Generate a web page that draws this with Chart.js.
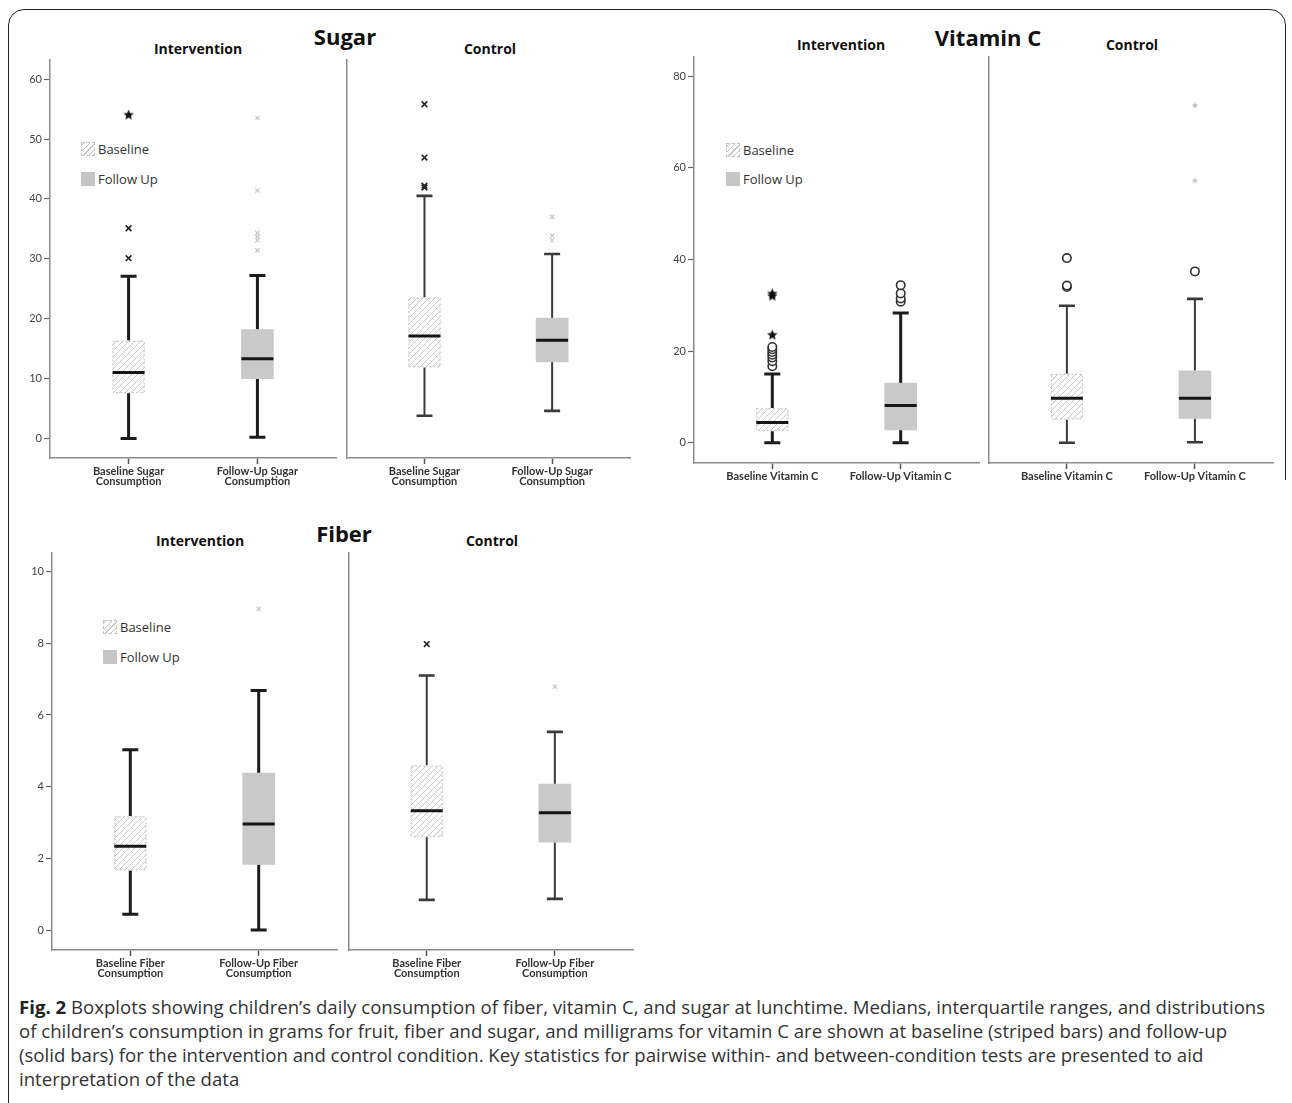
<!DOCTYPE html>
<html>
<head>
<meta charset="utf-8">
<script src="https://cdn.jsdelivr.net/npm/chart.js@4.4.1/dist/chart.umd.min.js"></script>
<style>
  body { margin: 0; background: #fff; }
  #page { position: relative; width: 1292px; height: 1103px; overflow: hidden; background: #fff; font-family: 'Open Sans', sans-serif; }
  #frame { position: absolute; left: 8px; top: 9px; width: 1278px; height: 1200px; border: 1.5px solid #222; border-radius: 16px; box-sizing: border-box; }
  #mask { position: absolute; left: 1276px; top: 480px; width: 20px; height: 700px; background: #fff; }
  canvas.sub { position: absolute; }
  .t { position: absolute; transform: translate(-50%, -50%); white-space: nowrap; color: #111; font-weight: 700; }
  .big { font-size: 22px; }
  .grp { font-size: 14px; }
  .leg { position: absolute; transform: translateY(-50%); display: flex; align-items: center; font-size: 13px; color: #333; white-space: nowrap; }
  .sw { width: 14px; height: 14px; margin-right: 3px; box-sizing: border-box; }
  .hatch { border: 1px dashed #c2c2c2; background: repeating-linear-gradient(-45deg, #fff 0 3px, #c4c4c4 3px 4px); }
  .solid { background: #c6c6c6; }
  .cap { position: absolute; left: 19px; white-space: nowrap; color: #333; line-height: 24px; }
  .cap b { color: #222; }
</style>
</head>
<body>
<div id="page">
  <div id="frame"></div>
  <div id="mask"></div>

  <div class="t big" style="left:345px; top:36px;">Sugar</div>
  <div class="t grp" style="left:198px; top:48px;">Intervention</div>
  <div class="t grp" style="left:490px; top:48px;">Control</div>

  <div class="t big" style="left:988px; top:37px;">Vitamin C</div>
  <div class="t grp" style="left:841px; top:44px;">Intervention</div>
  <div class="t grp" style="left:1132px; top:44px;">Control</div>

  <div class="t big" style="left:344px; top:533px;">Fiber</div>
  <div class="t grp" style="left:200px; top:540px;">Intervention</div>
  <div class="t grp" style="left:492px; top:540px;">Control</div>

  <div class="leg" style="left:81px; top:149px;"><div class="sw hatch"></div>Baseline</div>
  <div class="leg" style="left:81px; top:179px;"><div class="sw solid"></div>Follow Up</div>
  <div class="leg" style="left:726px; top:150px;"><div class="sw hatch"></div>Baseline</div>
  <div class="leg" style="left:726px; top:179px;"><div class="sw solid"></div>Follow Up</div>
  <div class="leg" style="left:103px; top:627px;"><div class="sw hatch"></div>Baseline</div>
  <div class="leg" style="left:103px; top:657px;"><div class="sw solid"></div>Follow Up</div>

  <div class="cap" style="top:995px;"><b>Fig. 2</b> Boxplots showing children’s daily consumption of fiber, vitamin C, and sugar at lunchtime. Medians, interquartile ranges, and distributions</div>
  <div class="cap" style="top:1019px;">of children’s consumption in grams for fruit, fiber and sugar, and milligrams for vitamin C are shown at baseline (striped bars) and follow-up</div>
  <div class="cap" style="top:1043px;">(solid bars) for the intervention and control condition. Key statistics for pairwise within- and between-condition tests are presented to aid</div>
  <div class="cap" style="top:1067px;">interpretation of the data</div>
</div>

<script>
// tick values and category labels
const sugarTicks = [0, 10, 20, 30, 40, 50, 60];
const vitTicks = [0, 20, 40, 60, 80];
const fiberTicks = [0, 2, 4, 6, 8, 10];
const sugarLabels = [['Baseline Sugar', 'Consumption'], ['Follow-Up Sugar', 'Consumption']];
const vitLabels = ['Baseline Vitamin C', 'Follow-Up Vitamin C'];
const fiberLabels = [['Baseline Fiber', 'Consumption'], ['Follow-Up Fiber', 'Consumption']];

// box stats: [min, q1, median, q3, max]
const sugarIntBase = [0, 7.6, 11.0, 16.3, 27.1];
const sugarIntFollow = [0.2, 10.0, 13.3, 18.2, 27.2];
const sugarCtrlBase = [3.8, 11.9, 17.1, 23.5, 40.5];
const sugarCtrlFollow = [4.6, 12.8, 16.4, 20.1, 30.8];
const vitIntBase = [0, 2.6, 4.4, 7.5, 15.0];
const vitIntFollow = [0, 2.8, 8.1, 13.0, 28.3];
const vitCtrlBase = [0, 5.1, 9.7, 15.0, 29.9];
const vitCtrlFollow = [0.1, 5.3, 9.7, 15.7, 31.4];
const fiberIntBase = [0.44, 1.67, 2.34, 3.17, 5.03];
const fiberIntFollow = [0, 1.83, 2.96, 4.38, 6.68];
const fiberCtrlBase = [0.84, 2.6, 3.33, 4.59, 7.1];
const fiberCtrlFollow = [0.87, 2.45, 3.27, 4.07, 5.53];

// outliers
const sugarIntBaseStar = [54.0];
const sugarIntBaseCross = [30.1, 35.1];
const sugarIntFollowOut = [31.4, 33.1, 33.7, 34.3, 41.4, 53.5];
const sugarCtrlBaseCross = [41.9, 42.2, 46.9, 55.8];
const sugarCtrlFollowOut = [33.1, 33.9, 37.0];
const vitIntBaseCircle = [16.7, 17.8, 18.6, 19.2, 19.8, 20.4, 20.9];
const vitIntBaseStar = [23.5, 32.0, 32.5];
const vitIntFollowCircle = [30.8, 31.5, 32.6, 34.4];
const vitCtrlBaseCircle = [34.0, 34.3, 40.3];
const vitCtrlFollowCircle = [37.4];
const vitCtrlFollowOut = [57.2, 73.6];
const fiberIntFollowOut = [8.96];
const fiberCtrlBaseCross = [7.98];
const fiberCtrlFollowOut = [6.79];

function makeStar(size, color) {
  const c = document.createElement('canvas');
  c.width = size; c.height = size;
  const g = c.getContext('2d');
  const r = size / 2;
  g.fillStyle = color;
  g.beginPath();
  for (let k = 0; k < 10; k++) {
    const a = -Math.PI / 2 + k * Math.PI / 5;
    const rr = k % 2 ? r * 0.45 : r;
    g.lineTo(r + rr * Math.cos(a), r + rr * Math.sin(a));
  }
  g.closePath();
  g.fill();
  return c;
}
const starImg = makeStar(11, '#111');
const lightStarImg = makeStar(7, '#c0c0c0');

function hatchTile() {
  const c = document.createElement('canvas');
  c.width = 6; c.height = 6;
  const g = c.getContext('2d');
  g.fillStyle = '#fff';
  g.fillRect(0, 0, 6, 6);
  g.strokeStyle = '#c8c8c8';
  g.lineWidth = 1;
  g.beginPath();
  g.moveTo(0, 6); g.lineTo(6, 0);
  g.moveTo(-1, 1); g.lineTo(1, -1);
  g.moveTo(5, 7); g.lineTo(7, 5);
  g.stroke();
  return c;
}
const tile = hatchTile();

function markSet(kind, box, vals) {
  const data = vals.map(v => ({ x: box, y: v }));
  const ds = { type: 'scatter', data: data, borderWidth: 1.6, backgroundColor: 'rgba(0,0,0,0)' };
  if (kind === 'cross') Object.assign(ds, { pointStyle: 'crossRot', pointRadius: 4, borderColor: '#222' });
  if (kind === 'light') Object.assign(ds, { pointStyle: 'crossRot', pointRadius: 3, borderColor: '#c6c6c6', borderWidth: 1.2 });
  if (kind === 'circle') Object.assign(ds, { pointStyle: 'circle', pointRadius: 4.2, borderColor: '#333', backgroundColor: '#fff' });
  if (kind === 'star') Object.assign(ds, { pointStyle: starImg });
  if (kind === 'lightStar') Object.assign(ds, { pointStyle: lightStarImg });
  return ds;
}

// whiskers, caps, medians and dashed outline drawn from the stats through the scales
const boxPlugin = {
  id: 'boxes',
  beforeDatasetsDraw(chart) {
    const ds = chart.data.datasets[0];
    const x = chart.scales.x, y = chart.scales.y, ctx = chart.ctx;
    ctx.save();
    ctx.strokeStyle = ds.heavy ? '#1c1c1c' : '#3a3a3a';
    ds.stats.forEach((s, i) => {
      const cx = x.getPixelForValue(i);
      ctx.lineWidth = ds.heavy ? 3 : 2;
      ctx.beginPath();
      ctx.moveTo(cx, y.getPixelForValue(s[0])); ctx.lineTo(cx, y.getPixelForValue(s[1]));
      ctx.moveTo(cx, y.getPixelForValue(s[3])); ctx.lineTo(cx, y.getPixelForValue(s[4]));
      ctx.stroke();
      ctx.lineWidth = ds.heavy ? 3 : 2.6;
      ctx.beginPath();
      [s[0], s[4]].forEach(v => {
        const py = y.getPixelForValue(v);
        ctx.moveTo(cx - 8, py); ctx.lineTo(cx + 8, py);
      });
      ctx.stroke();
    });
    ctx.restore();
  },
  afterDatasetsDraw(chart) {
    const ds = chart.data.datasets[0];
    const x = chart.scales.x, y = chart.scales.y, ctx = chart.ctx;
    const half = ds.barThickness / 2;
    ctx.save();
    ds.stats.forEach((s, i) => {
      const cx = x.getPixelForValue(i);
      if (i === 0) {
        ctx.setLineDash([2, 2]);
        ctx.strokeStyle = '#c4c4c4';
        ctx.lineWidth = 1;
        const top = y.getPixelForValue(s[3]), bot = y.getPixelForValue(s[1]);
        ctx.strokeRect(cx - half + 0.5, top + 0.5, half * 2 - 1, bot - top - 1);
        ctx.setLineDash([]);
      }
      ctx.strokeStyle = '#151515';
      ctx.lineWidth = 3;
      const py = y.getPixelForValue(s[2]);
      ctx.beginPath();
      ctx.moveTo(cx - half, py); ctx.lineTo(cx + half, py);
      ctx.stroke();
    });
    ctx.restore();
  }
};

const panels = [
  { area: [50, 60, 336, 458], range: [-3.26, 63.19], ticks: sugarTicks, labels: sugarLabels, stats: [sugarIntBase, sugarIntFollow], showY: true, heavy: true,
    marks: [['star', 0, sugarIntBaseStar], ['cross', 0, sugarIntBaseCross], ['light', 1, sugarIntFollowOut]] },
  { area: [345, 60, 630, 458], range: [-3.26, 63.19], ticks: sugarTicks, labels: sugarLabels, stats: [sugarCtrlBase, sugarCtrlFollow], showY: false, heavy: false,
    marks: [['cross', 0, sugarCtrlBaseCross], ['light', 1, sugarCtrlFollowOut]] },
  { area: [694, 57, 979, 463], range: [-4.43, 84.21], ticks: vitTicks, labels: vitLabels, stats: [vitIntBase, vitIntFollow], showY: true, heavy: true,
    marks: [['circle', 0, vitIntBaseCircle], ['star', 0, vitIntBaseStar], ['circle', 1, vitIntFollowCircle]] },
  { area: [987, 57, 1273, 463], range: [-4.43, 84.21], ticks: vitTicks, labels: vitLabels, stats: [vitCtrlBase, vitCtrlFollow], showY: false, heavy: false,
    marks: [['circle', 0, vitCtrlBaseCircle], ['circle', 1, vitCtrlFollowCircle], ['lightStar', 1, vitCtrlFollowOut]] },
  { area: [52, 553, 337, 950], range: [-0.558, 10.52], ticks: fiberTicks, labels: fiberLabels, stats: [fiberIntBase, fiberIntFollow], showY: true, heavy: true,
    marks: [['light', 1, fiberIntFollowOut]] },
  { area: [347, 553, 633, 950], range: [-0.558, 10.52], ticks: fiberTicks, labels: fiberLabels, stats: [fiberCtrlBase, fiberCtrlFollow], showY: false, heavy: false,
    marks: [['cross', 0, fiberCtrlBaseCross], ['light', 1, fiberCtrlFollowOut]] }
];

const page = document.getElementById('page');
panels.forEach(p => {
  const YW = p.showY ? 46 : 0, XH = 40, PT = 10, PR = 10, PL = 4;
  const canvas = document.createElement('canvas');
  canvas.className = 'sub';
  canvas.width = p.area[2] - p.area[0] + YW + PL + PR;
  canvas.height = p.area[3] - p.area[1] + PT + XH;
  canvas.style.left = (p.area[0] - YW - PL) + 'px';
  canvas.style.top = (p.area[1] - PT) + 'px';
  page.appendChild(canvas);
  const hatch = canvas.getContext('2d').createPattern(tile, 'repeat');

  new Chart(canvas, {
    type: 'bar',
    data: {
      datasets: [
        {
          type: 'bar',
          data: p.stats.map((s, i) => ({ x: i, y: [s[1], s[3]] })),
          backgroundColor: [hatch, '#c9c9c9'],
          borderWidth: 0,
          barThickness: 32,
          stats: p.stats,
          heavy: p.heavy
        },
        ...p.marks.map(m => markSet(m[0], m[1], m[2]))
      ]
    },
    options: {
      responsive: false,
      animation: false,
      events: [],
      layout: { padding: { top: PT, right: PR, left: PL, bottom: 0 } },
      plugins: { legend: { display: false }, tooltip: { enabled: false } },
      scales: {
        x: {
          type: 'linear', min: -0.61, max: 1.61, offset: false,
          afterBuildTicks: s => { s.ticks = [{ value: 0 }, { value: 1 }]; },
          afterFit: s => { s.height = XH; },
          grid: { offset: false, drawOnChartArea: false, drawTicks: true, tickLength: 6, tickColor: '#555', tickWidth: 1.5 },
          border: { color: '#8c8c8c', width: 1.5 },
          ticks: { callback: v => p.labels[v], color: '#333', padding: 2, maxRotation: 0, autoSkip: false,
                   font: { family: 'Lato', size: 11, weight: 'bold', lineHeight: 0.96 } }
        },
        y: {
          type: 'linear', min: p.range[0], max: p.range[1],
          afterBuildTicks: s => { s.ticks = p.ticks.map(v => ({ value: v })); },
          afterFit: s => { s.width = YW; },
          grid: { drawOnChartArea: false, drawTicks: p.showY, tickLength: p.showY ? 6 : 0, tickColor: '#666', tickWidth: 1.2 },
          border: { color: '#8c8c8c', width: 1.5 },
          ticks: { display: p.showY, color: '#444', padding: 2, font: { family: 'Lato', size: 11 } }
        }
      }
    },
    plugins: [boxPlugin]
  });
});

// fit caption font so the first line spans the same width as the figure caption
(function () {
  const ctx = document.createElement('canvas').getContext('2d');
  const base = 16;
  ctx.font = 'bold ' + base + 'px "Open Sans"';
  let w = ctx.measureText('Fig. 2').width;
  ctx.font = base + 'px "Open Sans"';
  w += ctx.measureText(' Boxplots showing children’s daily consumption of fiber, vitamin C, and sugar at lunchtime. Medians, interquartile ranges, and distributions').width;
  const size = base * 1246 / w;
  document.querySelectorAll('.cap').forEach(el => { el.style.fontSize = size.toFixed(2) + 'px'; });
})();
</script>
</body>
</html>
